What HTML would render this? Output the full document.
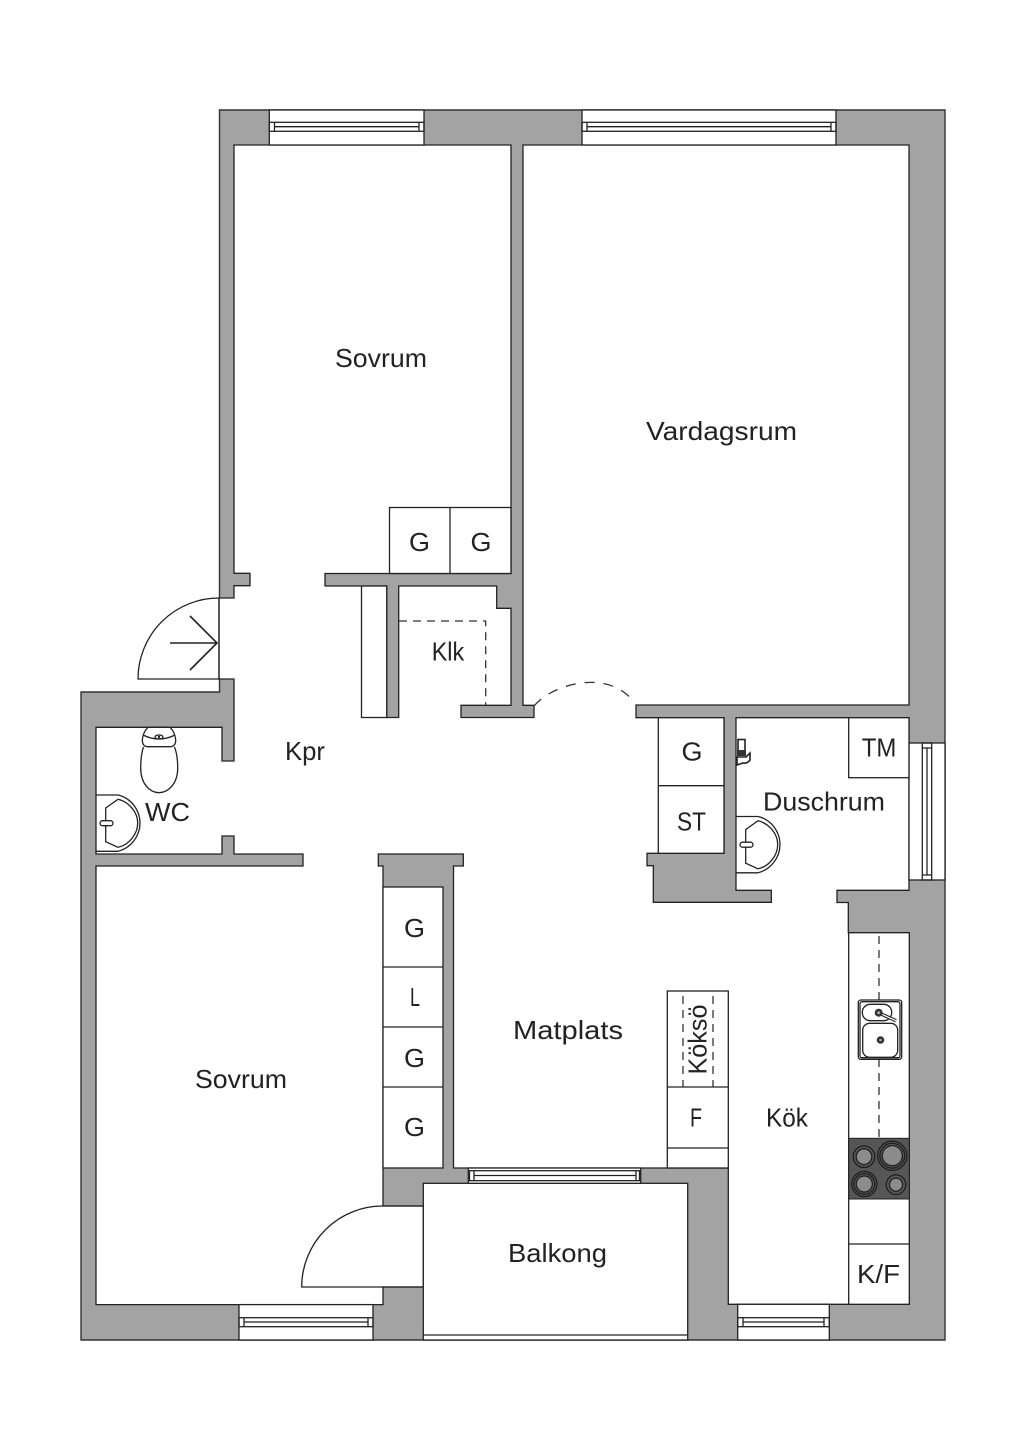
<!DOCTYPE html>
<html><head><meta charset="utf-8"><style>
html,body{margin:0;padding:0;background:#fff}
svg{display:block}
text{font-family:"Liberation Sans",sans-serif;font-size:26px;fill:#222;}
.l{fill:none;stroke:#222;stroke-width:1.3}
.w{fill:#fff;stroke:#222;stroke-width:1.3}
.d{fill:none;stroke:#333;stroke-width:1.3;stroke-dasharray:8 6}
</style></head><body>
<svg width="1024" height="1448" viewBox="0 0 1024 1448" xmlns="http://www.w3.org/2000/svg">
<rect width="1024" height="1448" fill="#fff"/>
<!-- building -->
<polygon points="219.5,110 945,110 945,1340 81,1340 81,692 219.5,692" fill="#a3a3a3" stroke="#333" stroke-width="1.4"/>
<!-- interior -->
<polygon class="w" stroke-linejoin="miter" points="234,145 511,145 511,573.5 325,573.5 325,586 386.7,586 386.7,717.5 398.7,717.5 398.7,586 496.7,586 496.7,608.3 511,608.3 511,705.3 461,705.3 461,717.5 534,717.5 534,705.3 523,705.3 523,145 909,145 909,705 636,705 636,717.7 724,717.7 724,853.3 647,853.3 647,865.7 653.3,865.7 653.3,902.3 771.3,902.3 771.3,890.3 736,890.3 736,717.7 909,717.7 909,890.3 837,890.3 837,902.5 848.3,902.5 848.3,932.7 909,932.7 909,1304.3 728.3,1304.3 728.3,1168 453.5,1168 453.5,866 463.3,866 463.3,854 378.3,854 378.3,866 383,866 383,1206 423.3,1206 423.3,1287 383,1287 383,1304.6 96,1304.6 96,866 303,866 303,854 234,854 234,836 222,836 222,854 96,854 96,727.3 222,727.3 222,761 234,761 234,679 219,679 219,598 234,598 234,585.7 250,585.7 250,573.3 234,573.3"/>
<!-- balcony -->
<rect class="w" x="423.3" y="1183.3" width="264.4" height="156.7"/>
<line class="l" x1="423.3" y1="1335" x2="687.7" y2="1335"/>
<!-- windows horizontal -->
<g>
<rect class="w" x="269.3" y="110" width="154.7" height="35"/>
<rect class="l" x="269.3" y="122.3" width="154.7" height="9"/>
<line class="l" x1="274.5" y1="126.7" x2="419" y2="126.7"/>
<line class="l" x1="274.5" y1="122.3" x2="274.5" y2="131.3"/><line class="l" x1="419" y1="122.3" x2="419" y2="131.3"/>
</g>
<g>
<rect class="w" x="582" y="110" width="254" height="35"/>
<rect class="l" x="582" y="122.3" width="254" height="9"/>
<line class="l" x1="587" y1="126.7" x2="831" y2="126.7"/>
<line class="l" x1="587" y1="122.3" x2="587" y2="131.3"/><line class="l" x1="831" y1="122.3" x2="831" y2="131.3"/>
</g>
<g>
<rect class="w" x="239" y="1304.6" width="134" height="35.4"/>
<rect class="l" x="239" y="1317.7" width="134" height="9"/>
<line class="l" x1="244" y1="1322" x2="368" y2="1322"/>
<line class="l" x1="368" y1="1317.7" x2="368" y2="1326.7"/><line class="l" x1="244" y1="1317.7" x2="244" y2="1326.7"/>
</g>
<g>
<rect class="w" x="737.7" y="1304.3" width="91.6" height="35.7"/>
<rect class="l" x="737.7" y="1317.7" width="91.6" height="9"/>
<line class="l" x1="743" y1="1322" x2="824" y2="1322"/>
<line class="l" x1="743" y1="1317.7" x2="743" y2="1326.7"/><line class="l" x1="824" y1="1317.7" x2="824" y2="1326.7"/>
</g>
<g>
<rect class="w" x="468.3" y="1168" width="172.4" height="15.3"/>
<rect class="l" x="469.5" y="1170.7" width="170" height="10"/>
<line class="l" x1="474" y1="1175.5" x2="636" y2="1175.5"/>
<line class="l" x1="474" y1="1170.7" x2="474" y2="1180.7"/><line class="l" x1="636" y1="1170.7" x2="636" y2="1180.7"/>
</g>
<!-- window right -->
<g>
<rect class="w" x="909" y="743" width="36" height="137"/>
<rect class="l" x="922.3" y="743" width="9.4" height="137"/>
<line class="l" x1="927" y1="748" x2="927" y2="875"/>
<line class="l" x1="922.3" y1="748" x2="931.7" y2="748"/><line class="l" x1="922.3" y1="875" x2="931.7" y2="875"/>
</g>
<!-- closets -->
<rect class="w" x="389.5" y="507.5" width="121.5" height="66"/>
<line class="l" x1="450" y1="507.5" x2="450" y2="573.5"/>
<rect class="w" x="361.5" y="586" width="25.2" height="131.5"/>
<rect class="w" x="658.3" y="717.7" width="65.7" height="135.6"/>
<line class="l" x1="658.3" y1="785.7" x2="724" y2="785.7"/>
<rect class="w" x="848.7" y="717.7" width="60.3" height="60"/>
<rect class="w" x="383" y="887" width="60" height="281"/>
<line class="l" x1="383" y1="967" x2="443" y2="967"/><line class="l" x1="383" y1="1027" x2="443" y2="1027"/><line class="l" x1="383" y1="1087" x2="443" y2="1087"/>
<!-- kitchen island -->
<rect class="w" x="667.3" y="991" width="61" height="177"/>
<line class="l" x1="667.3" y1="1087" x2="728.3" y2="1087"/><line class="l" x1="667.3" y1="1148" x2="728.3" y2="1148"/>
<line class="d" x1="683" y1="996" x2="683" y2="1087"/><line class="d" x1="713" y1="996" x2="713" y2="1087"/>
<!-- counter -->
<rect class="w" x="848.7" y="932.7" width="60.6" height="371.6"/>
<line class="l" x1="848.7" y1="1244" x2="909.3" y2="1244"/>
<line class="d" x1="879" y1="936" x2="879" y2="1000"/><line class="d" x1="879" y1="1059" x2="879" y2="1138"/>
<!-- sink -->
<rect class="w" x="858.3" y="1000" width="43.4" height="59.3" rx="2.5"/>
<rect class="l" x="860" y="1001.7" width="40" height="56" rx="2"/>
<rect class="w" x="862.3" y="1004.3" width="29.4" height="16.4" rx="8"/>
<rect class="w" x="862.7" y="1023.3" width="35" height="34" rx="7"/>
<circle cx="880.5" cy="1040" r="3.8" fill="#333"/><circle cx="880.5" cy="1040" r="1.3" fill="#aaa"/>
<line x1="879" y1="1013" x2="896" y2="1020.7" stroke="#222" stroke-width="3.4"/>
<line x1="879" y1="1013" x2="896" y2="1020.7" stroke="#fff" stroke-width="1.2"/>
<circle cx="878.7" cy="1012.7" r="4" fill="#333"/><circle cx="878.7" cy="1012.7" r="1.5" fill="#aaa"/>
<!-- hob -->
<rect x="848.7" y="1138.3" width="60.6" height="60.7" fill="#565656" stroke="#222" stroke-width="1"/>
<g fill="none" stroke="#1c1c1c" stroke-width="1.2">
<circle cx="864" cy="1156.7" r="10.8"/>
<circle cx="892.3" cy="1155.7" r="14.6"/>
<circle cx="892.3" cy="1155.7" r="12.4"/>
<circle cx="864.3" cy="1184" r="12.6"/>
<circle cx="864.3" cy="1184" r="10.4"/>
<circle cx="896" cy="1184.7" r="9.8"/>
</g>
<g fill="#8c8c8c" stroke="#1c1c1c" stroke-width="1.2">
<circle cx="864" cy="1156.7" r="7.8"/>
<circle cx="892.3" cy="1155.7" r="10"/>
<circle cx="864.3" cy="1184" r="8"/>
<circle cx="896" cy="1184.7" r="6.5"/>
</g>
<!-- doors -->
<path class="l" d="M219,598 A81,81 0 0 0 138,679 L219,679 Z"/>
<path d="M170,643 H217 M190,616 L217,643 L190,670" fill="none" stroke="#222" stroke-width="1.6"/>
<path class="l" d="M383,1206 A81,81 0 0 0 301.7,1287 L423.3,1287"/>
<line class="l" x1="383" y1="1206" x2="423.3" y2="1206"/>
<path d="M534,706 C 552,684 608,668 634,702" fill="none" stroke="#333" stroke-width="1.3" stroke-dasharray="10 9"/>
<path class="d" d="M399,621 H485.7 V705"/>
<!-- toilet -->
<g>
<path class="l" d="M148,727.3 H170 Q175,732 175.7,740 Q175.7,746.7 170,746.7 H148 Q142.3,746.7 142.3,740 Q143,732 148,727.3 Z"/>
<path class="l" d="M143,735 Q159,743 175,735"/>
<path class="l" d="M143.5,747 Q140.7,755 140.7,768 C140.7,784 150,792.7 159,792.7 C168,792.7 177.7,784 177.7,768 Q177.7,755 174.5,747"/>
<ellipse class="l" cx="159" cy="737" rx="4" ry="2"/>
<circle cx="159" cy="737" r="1.2" fill="#222"/>
</g>
<!-- basins -->
<g>
<path class="l" d="M96,795 H118 C131,798 140,810 140,823 C140,836 131,848 118,851.3 H96"/>
<path class="l" d="M105.7,808 L118,799.3 C129,802 137.7,812 137.7,823 C137.7,834 129,845 118,847.3 L105.7,841.7 Z"/>
<rect class="w" x="100" y="820.7" width="13" height="5" rx="2.5"/>
</g>
<g transform="translate(640,21.5)">
<path class="l" d="M96,795 H118 C131,798 140,810 140,823 C140,836 131,848 118,851.3 H96"/>
<path class="l" d="M105.7,808 L118,799.3 C129,802 137.7,812 137.7,823 C137.7,834 129,845 118,847.3 L105.7,841.7 Z"/>
<rect class="w" x="100" y="820.7" width="13" height="5" rx="2.5"/>
</g>
<!-- shower -->
<g>
<rect x="738" y="739.5" width="7" height="12" fill="#fff" stroke="#222" stroke-width="1.6"/>
<rect x="737" y="750" width="9" height="6" fill="#333"/>
<path d="M737,757 H746 L750,753 V760 Q747,764 743,763 L737,765 Z" fill="#fff" stroke="#222" stroke-width="1.6"/>
</g>
<!-- labels -->
<text x="335" y="367" textLength="92" lengthAdjust="spacingAndGlyphs">Sovrum</text>
<text x="646" y="440" textLength="151" lengthAdjust="spacingAndGlyphs">Vardagsrum</text>
<text x="409" y="551" textLength="21" lengthAdjust="spacingAndGlyphs">G</text>
<text x="470.5" y="551" textLength="21" lengthAdjust="spacingAndGlyphs">G</text>
<text x="431.7" y="660.7" textLength="32.5" lengthAdjust="spacingAndGlyphs">Klk</text>
<text x="285" y="760" textLength="40" lengthAdjust="spacingAndGlyphs">Kpr</text>
<text x="145" y="821" textLength="45" lengthAdjust="spacingAndGlyphs">WC</text>
<text x="763" y="810.7" textLength="122" lengthAdjust="spacingAndGlyphs">Duschrum</text>
<text x="861.7" y="756.7" textLength="34.6" lengthAdjust="spacingAndGlyphs">TM</text>
<text x="681.5" y="760.7" textLength="21" lengthAdjust="spacingAndGlyphs">G</text>
<text x="677" y="830.7" textLength="29" lengthAdjust="spacingAndGlyphs">ST</text>
<text x="404" y="937" textLength="21" lengthAdjust="spacingAndGlyphs">G</text>
<text x="410" y="1006" textLength="10" lengthAdjust="spacingAndGlyphs">L</text>
<text x="404" y="1067" textLength="21" lengthAdjust="spacingAndGlyphs">G</text>
<text x="404" y="1136" textLength="21" lengthAdjust="spacingAndGlyphs">G</text>
<text x="513" y="1039" textLength="110" lengthAdjust="spacingAndGlyphs">Matplats</text>
<text transform="translate(706.7,1074.5) rotate(-90)" textLength="70" lengthAdjust="spacingAndGlyphs">Köksö</text>
<text x="690" y="1126.7" textLength="12" lengthAdjust="spacingAndGlyphs">F</text>
<text x="766" y="1126.7" textLength="42" lengthAdjust="spacingAndGlyphs">Kök</text>
<text x="857" y="1283" textLength="43" lengthAdjust="spacingAndGlyphs">K/F</text>
<text x="508" y="1262" textLength="99" lengthAdjust="spacingAndGlyphs">Balkong</text>
<text x="195" y="1088" textLength="92" lengthAdjust="spacingAndGlyphs">Sovrum</text>
</svg>
</body></html>
